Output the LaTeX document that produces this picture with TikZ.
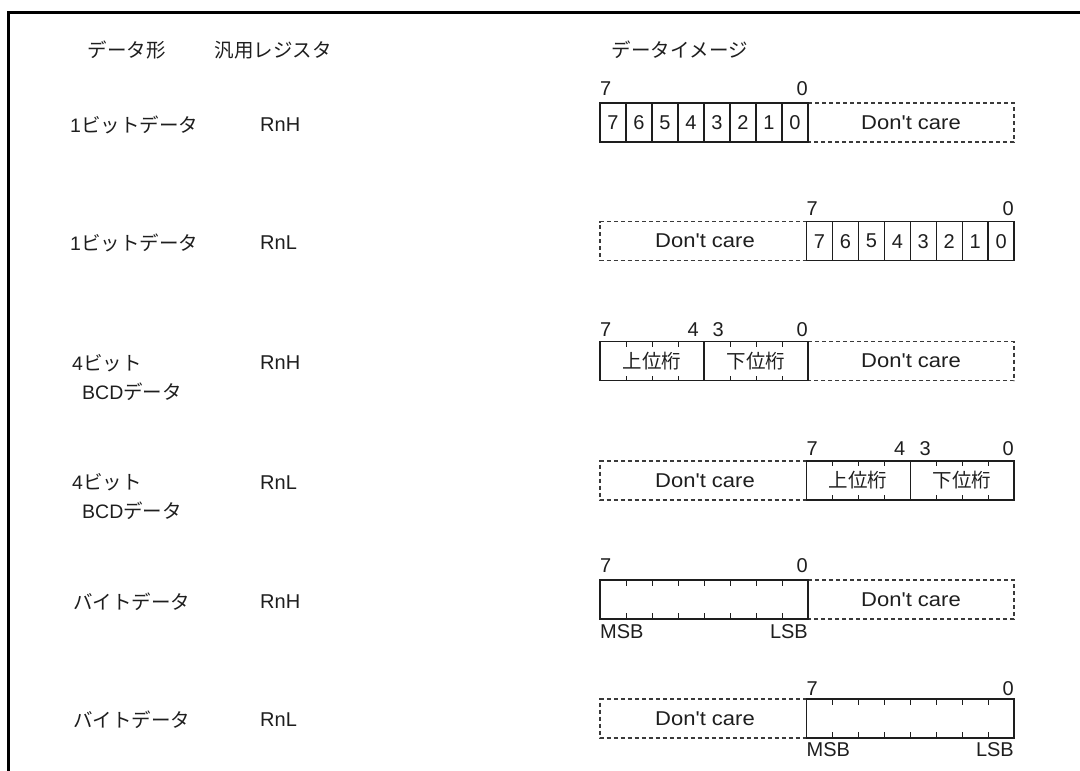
\documentclass[tikz,border=0pt]{standalone}
\usepackage{fontspec}
\setmainfont{Liberation Sans}
\newfontfamily\widefont[FakeStretch=1.1]{Liberation Sans}
\newfontfamily\cjk{Noto Sans CJK JP}
\definecolor{ink}{HTML}{1E1E1E}
\definecolor{dashink}{HTML}{3A3A3A}
\begin{document}
\begin{tikzpicture}[x=1pt,y=-1pt,
  lat/.style={font=\fontsize{20}{24}\selectfont, inner sep=0pt, text=ink},
  dctext/.style={font=\widefont\fontsize{20}{24}\selectfont, inner sep=0pt, text=ink},
  jp/.style={font=\cjk\fontsize{19.5}{24}\selectfont, inner sep=0pt, text=ink},
  solidbox/.style={draw=ink, line width=1.2pt},
  dcbox/.style={draw=dashink, line width=1.1pt, dash pattern=on 4pt off 3pt},
  tickline/.style={draw=ink, line width=0.9pt},
  frameline/.style={line width=2.4pt, draw=black}]
\useasboundingbox (0,0) rectangle (1080,771);
\draw[frameline] (1080,12.5) -- (8.5,12.5) -- (8.5,771);

% headers
\node[jp] (h1) at (126.5,50) {データ形};
\node[jp] (h2) at (273,50) {汎用レジスタ};
\node[jp] (h3) at (680,50) {データイメージ};

% row labels
\node[jp, anchor=west] (t1) at (70,124.5) {{\rmfamily 1}ビットデータ};
\node[lat, anchor=west] (r1) at (260,124.5) {RnH};
\node[jp, anchor=west] (t2) at (70,243) {{\rmfamily 1}ビットデータ};
\node[lat, anchor=west] (r2) at (260,243) {RnL};
\node[jp, anchor=west] (t3a) at (72,363) {{\rmfamily 4}ビット};
\node[jp, anchor=west] (t3b) at (82,391.5) {{\rmfamily BCD}データ};
\node[lat, anchor=west] (r3) at (260,363) {RnH};
\node[jp, anchor=west] (t4a) at (72,482.5) {{\rmfamily 4}ビット};
\node[jp, anchor=west] (t4b) at (82,511) {{\rmfamily BCD}データ};
\node[lat, anchor=west] (r4) at (260,482.5) {RnL};
\node[jp, anchor=west] (t5) at (73,601.5) {バイトデータ};
\node[lat, anchor=west] (r5) at (260,601.5) {RnH};
\node[jp, anchor=west] (t6) at (73,719.5) {バイトデータ};
\node[lat, anchor=west] (r6) at (260,719.5) {RnL};

% ---------- Row 1: RnH bits ----------
\draw[dcbox] (808,103) -- (1014,103) -- (1014,142) -- (808,142);
\draw[solidbox] (600,103) rectangle (808,142);
\foreach \i in {1,...,7} \draw[solidbox] (600+26*\i,103) -- (600+26*\i,142);
\foreach \d [count=\i from 0] in {7,6,5,4,3,2,1,0}
  \node[lat] (c1\i) at (613+26*\i,122.5) {\d};
\node[dctext] (dc1) at (911,122.5) {Don't care};
\node[lat, anchor=west] (a1) at (600,89) {7};
\node[lat, anchor=east] (b1) at (808,89) {0};

% ---------- Row 2: RnL bits ----------
\draw[dcbox] (806.5,221.7) -- (600,221.7) -- (600,260.7) -- (806.5,260.7);
\draw[solidbox] (806.5,221.7) rectangle (1014,260.7);
\foreach \i in {1,...,7} \draw[solidbox] (806.5+25.94*\i,221.7) -- (806.5+25.94*\i,260.7);
\foreach \d [count=\i from 0] in {7,6,5,4,3,2,1,0}
  \node[lat] (c2\i) at (819.5+25.94*\i,241.2) {\d};
\node[dctext] (dc2) at (705,241.2) {Don't care};
\node[lat, anchor=west] (a2) at (806.5,209) {7};
\node[lat, anchor=east] (b2) at (1014,209) {0};

% ---------- Row 3: RnH BCD ----------
\draw[dcbox] (808,341.7) -- (1014,341.7) -- (1014,380.7) -- (808,380.7);
\draw[solidbox] (600,341.7) rectangle (808,380.7);
\draw[solidbox] (704,341.7) -- (704,380.7);
\foreach \i in {1,2,3,5,6,7} {
  \draw[tickline] (600+26*\i,341.7) -- ++(0,5);
  \draw[tickline] (600+26*\i,380.7) -- ++(0,-5);
}
\node[jp] (u3) at (652,361.2) {上位桁};
\node[jp] (l3) at (756,361.2) {下位桁};
\node[dctext] (dc3) at (911,361.2) {Don't care};
\node[lat, anchor=west] (a3) at (600,330) {7};
\node[lat, anchor=east] (m3) at (699,330) {4};
\node[lat, anchor=west] (n3) at (712.5,330) {3};
\node[lat, anchor=east] (b3) at (808,330) {0};

% ---------- Row 4: RnL BCD ----------
\draw[dcbox] (806.5,461) -- (600,461) -- (600,500) -- (806.5,500);
\draw[solidbox] (806.5,461) rectangle (1014,500);
\draw[solidbox] (910.25,461) -- (910.25,500);
\foreach \i in {1,2,3,5,6,7} {
  \draw[tickline] (806.5+25.94*\i,461) -- ++(0,5);
  \draw[tickline] (806.5+25.94*\i,500) -- ++(0,-5);
}
\node[jp] (u4) at (858,480.5) {上位桁};
\node[jp] (l4) at (962,480.5) {下位桁};
\node[dctext] (dc4) at (705,480.5) {Don't care};
\node[lat, anchor=west] (a4) at (806.5,449) {7};
\node[lat, anchor=east] (m4) at (905.5,449) {4};
\node[lat, anchor=west] (n4) at (919.5,449) {3};
\node[lat, anchor=east] (b4) at (1014,449) {0};

% ---------- Row 5: RnH byte ----------
\draw[dcbox] (808,580) -- (1014,580) -- (1014,619) -- (808,619);
\draw[solidbox] (600,580) rectangle (808,619);
\foreach \i in {1,...,7} {
  \draw[tickline] (600+26*\i,580) -- ++(0,6);
  \draw[tickline] (600+26*\i,619) -- ++(0,-6);
}
\node[dctext] (dc5) at (911,599.5) {Don't care};
\node[lat, anchor=west] (a5) at (600,565.5) {7};
\node[lat, anchor=east] (b5) at (808,565.5) {0};
\node[lat, anchor=west] (ms5) at (600,632) {MSB};
\node[lat, anchor=east] (ls5) at (808,632) {LSB};

% ---------- Row 6: RnL byte ----------
\draw[dcbox] (806.5,699) -- (600,699) -- (600,738) -- (806.5,738);
\draw[solidbox] (806.5,699) rectangle (1014,738);
\foreach \i in {1,...,7} {
  \draw[tickline] (806.5+25.94*\i,699) -- ++(0,6);
  \draw[tickline] (806.5+25.94*\i,738) -- ++(0,-6);
}
\node[dctext] (dc6) at (705,718.5) {Don't care};
\node[lat, anchor=west] (a6) at (806.5,689) {7};
\node[lat, anchor=east] (b6) at (1014,689) {0};
\node[lat, anchor=west] (ms6) at (806.5,749.5) {MSB};
\node[lat, anchor=east] (ls6) at (1014,749.5) {LSB};
\end{tikzpicture}
\end{document}
